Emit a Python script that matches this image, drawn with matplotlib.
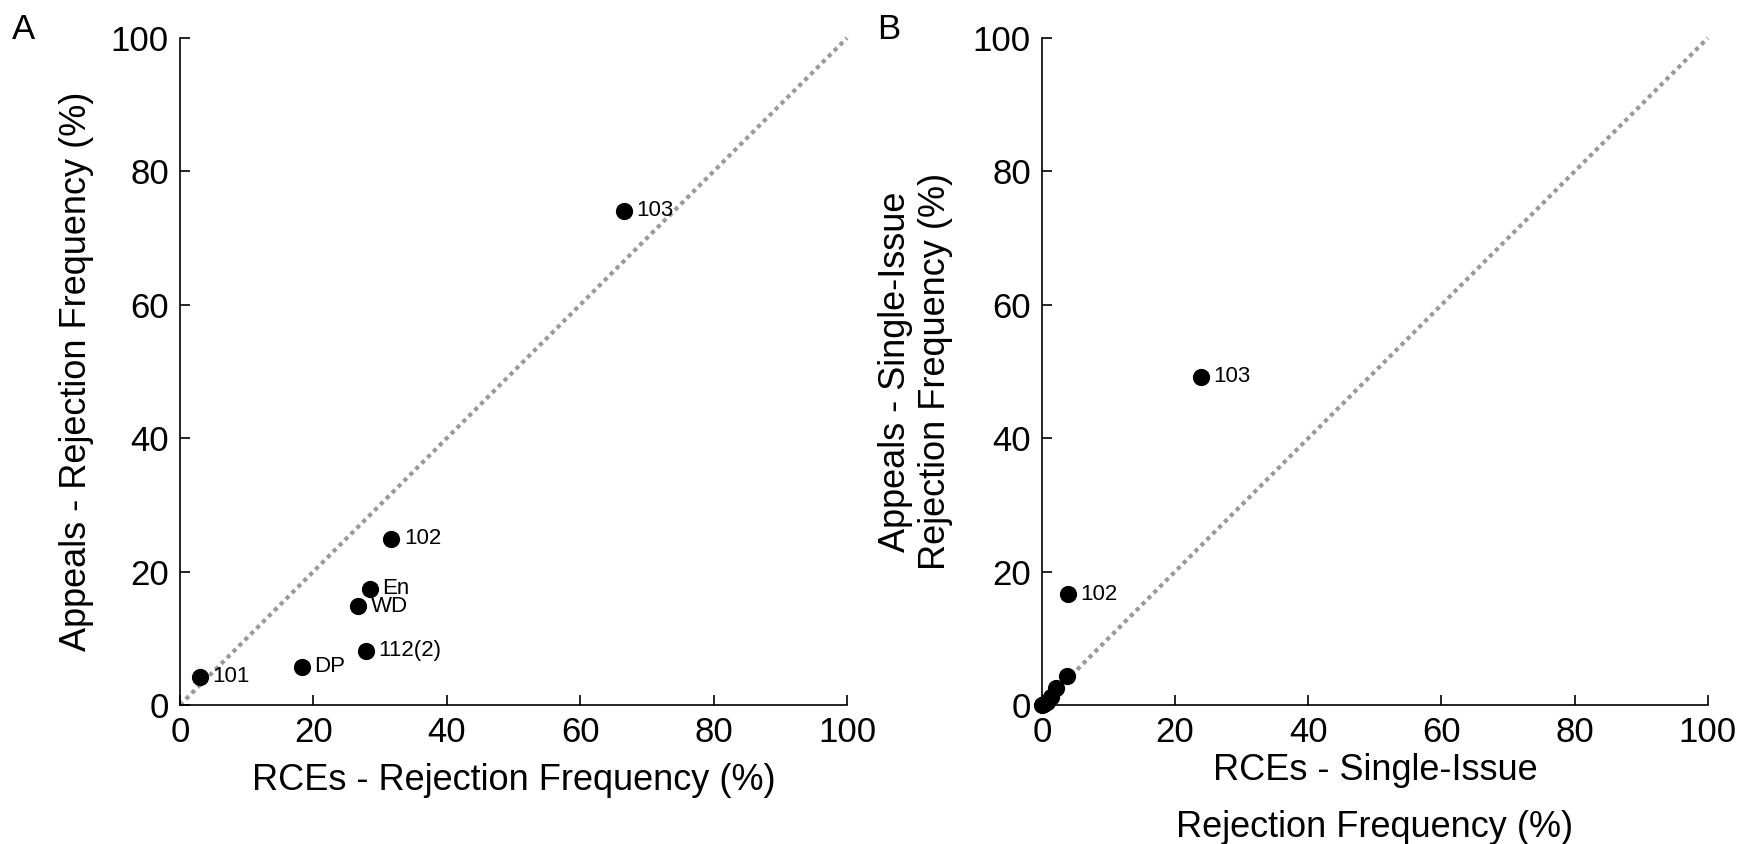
import matplotlib.pyplot as plt

plt.rcParams['font.family'] = ['Liberation Sans', 'DejaVu Sans']

# Panel A: RCEs vs appeals rejection frequency (%)
a_labels = ['101', 'DP', '112(2)', 'WD', 'En', '102', '103']
a_rce = [3.0, 18.3, 27.9, 26.7, 28.5, 31.7, 66.6]
a_appeal = [4.2, 5.7, 8.1, 14.8, 17.4, 24.9, 74.1]

# Panel B: single-issue rejection frequency (%)
b_labels = ['102', '103']
b_rce_lab = [3.9, 23.9]
b_appeal_lab = [16.6, 49.2]
b_rce_other = [3.8, 2.1, 1.3, 0.8, 0.3, 0.0]
b_appeal_other = [4.3, 2.5, 1.2, 0.5, 0.1, 0.0]

ticks = [0, 20, 40, 60, 80, 100]


def style(ax):
    ax.set_xlim(0, 100)
    ax.set_ylim(0, 100)
    ax.set_xticks(ticks)
    ax.set_yticks(ticks)
    ax.spines['top'].set_visible(False)
    ax.spines['right'].set_visible(False)
    for s in ['left', 'bottom']:
        ax.spines[s].set_linewidth(1.2)
    ax.tick_params(direction='in', length=7, width=1.2, labelsize=25, pad=8)
    ax.plot([0, 100], [0, 100], color='#999999', ls=(0, (1, 1)), lw=3,
            zorder=1, clip_on=False)


fig = plt.figure(figsize=(17.54, 8.44), dpi=100)
ax1 = fig.add_axes([0.1026, 0.1647, 0.3803, 0.7903])
ax2 = fig.add_axes([0.594, 0.1647, 0.3797, 0.7903])

style(ax1)
ax1.scatter(a_rce, a_appeal, s=130, color='black', zorder=3, clip_on=False)
for lab, x, y in zip(a_labels, a_rce, a_appeal):
    ax1.annotate(lab, (x, y), xytext=(9, 0), textcoords='offset points',
                 ha='left', va='center', fontsize=16)
ax1.set_xlabel('RCEs - Rejection Frequency (%)', fontsize=26, labelpad=10)
ax1.set_ylabel('Appeals - Rejection Frequency (%)', fontsize=26, labelpad=12)

style(ax2)
ax2.scatter(b_rce_other, b_appeal_other, s=130, color='black', zorder=3,
            clip_on=False)
ax2.scatter(b_rce_lab, b_appeal_lab, s=130, color='black', zorder=3)
for lab, x, y in zip(b_labels, b_rce_lab, b_appeal_lab):
    ax2.annotate(lab, (x, y), xytext=(9, 0), textcoords='offset points',
                 ha='left', va='center', fontsize=16)
ax2.set_xlabel('RCEs - Single-Issue\nRejection Frequency (%)', fontsize=26,
               labelpad=3, linespacing=1.8)
ax2.set_ylabel('Appeals - Single-Issue\nRejection Frequency (%)', fontsize=26,
               labelpad=14, linespacing=1.2)

fig.text(0.007, 0.985, 'A', fontsize=25, va='top', ha='left')
fig.text(0.500, 0.985, 'B', fontsize=25, va='top', ha='left')

fig.savefig('out.png', dpi=100)
